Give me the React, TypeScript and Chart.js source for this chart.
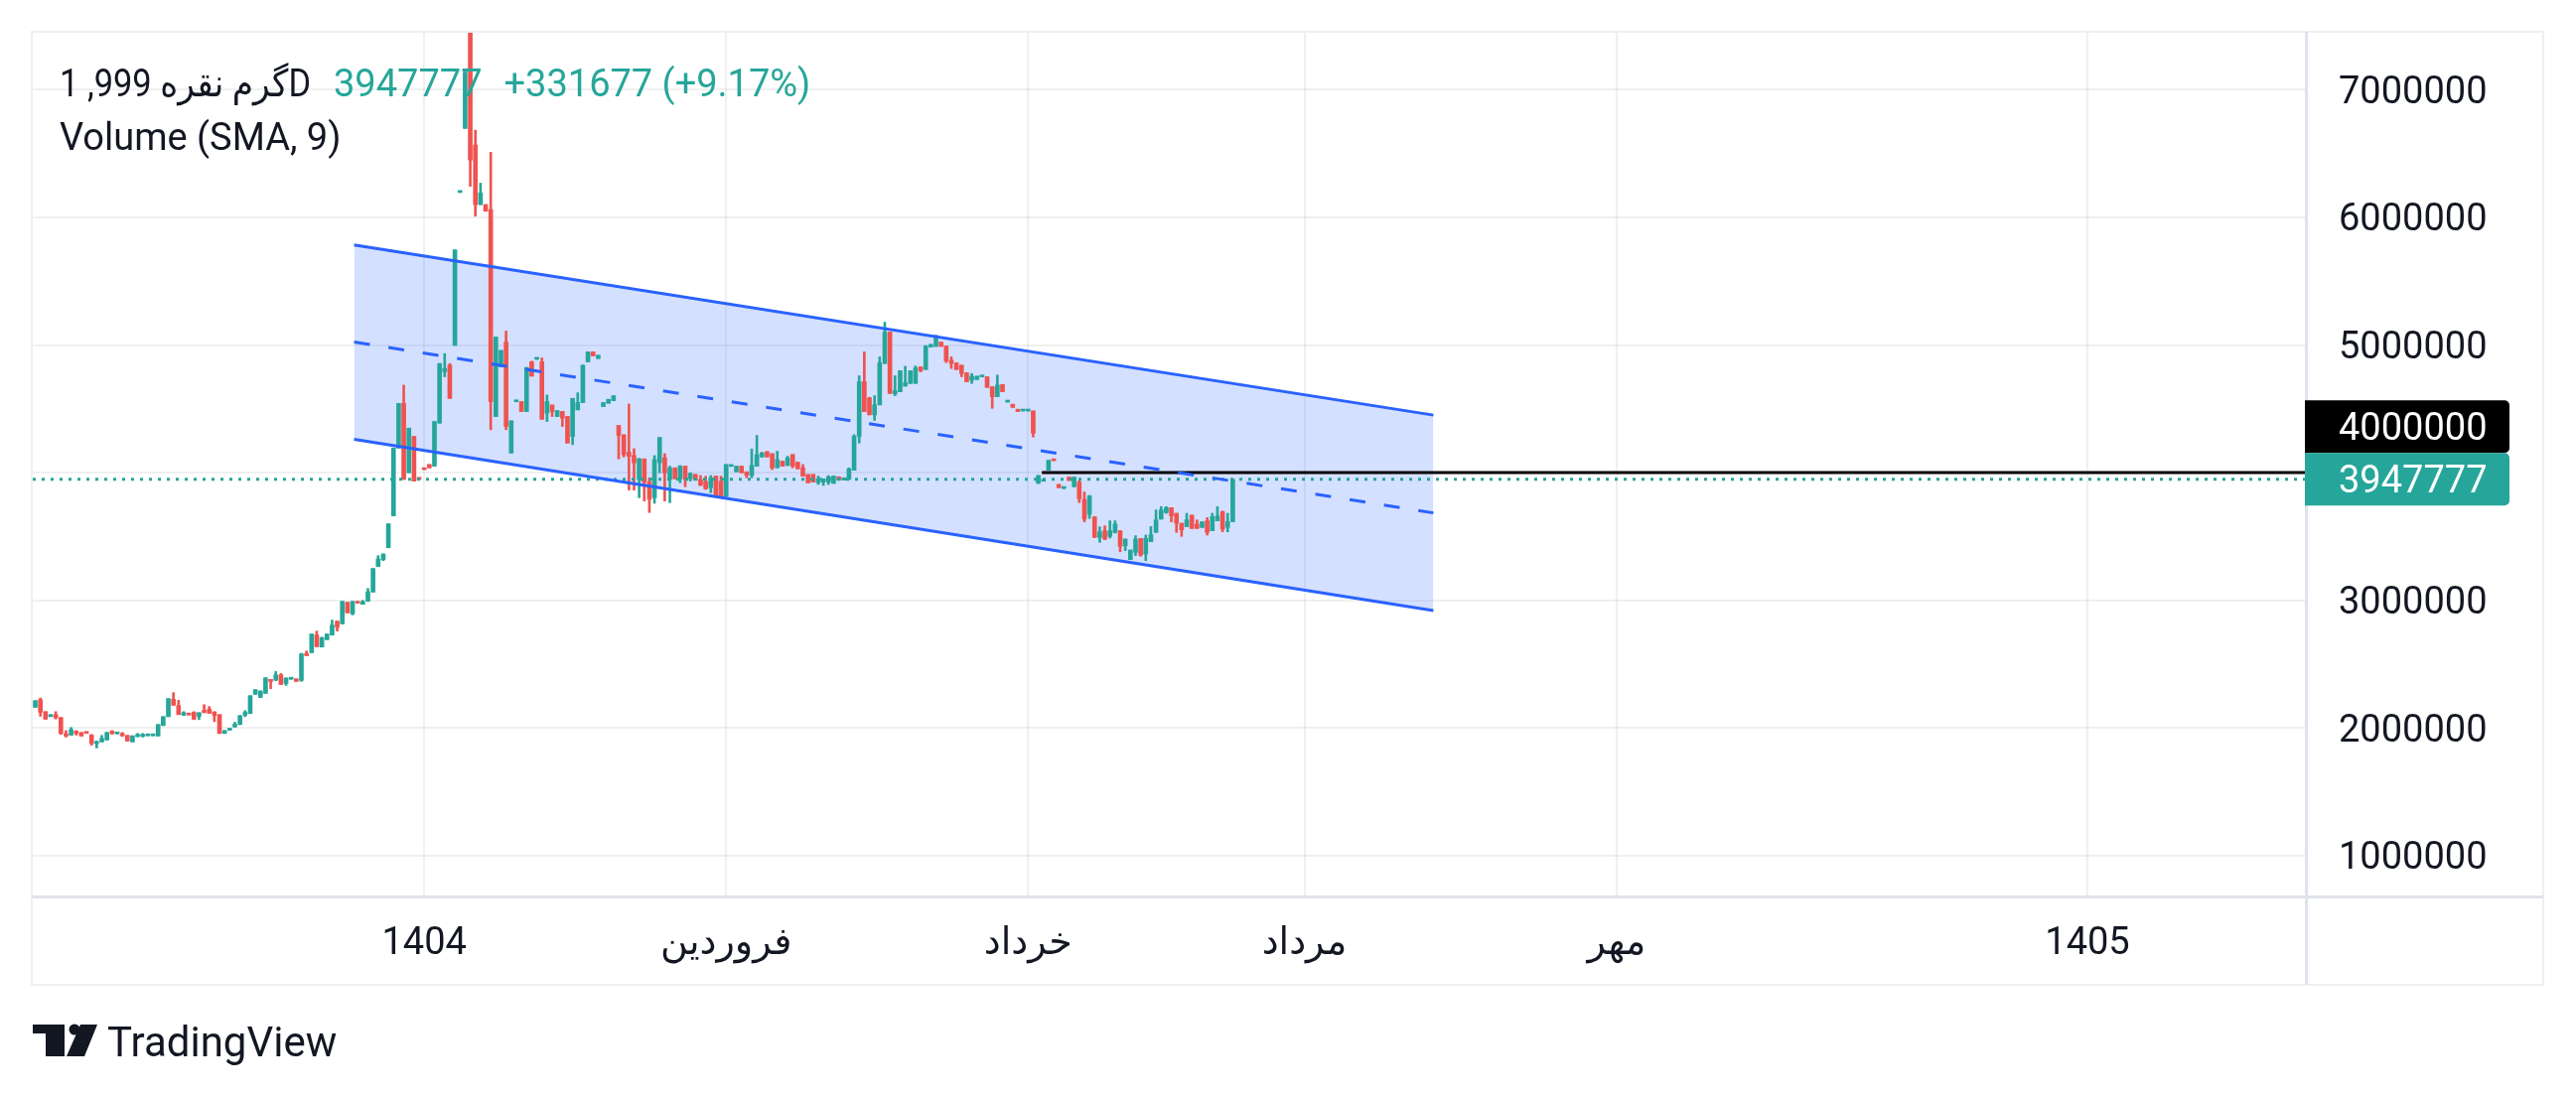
import React, { useEffect, useRef } from "react";
import { Chart, registerables } from "chart.js";

Chart.register(...registerables);

// ---------- data (prices in thousands) ----------
const OPEN = [
  2162, 2222, 2128, 2089, 2105, 2082, 1955, 1944, 1975, 1965,
  1962, 1944, 1878, 1891, 1906, 1975, 1954, 1957, 1942, 1891,
  1932, 1934, 1939, 1939, 1937, 2019, 2089, 2225, 2175, 2100,
  2110, 2123, 2092, 2139, 2147, 2126, 2105, 1957, 1983, 2009,
  2027, 2100, 2113, 2264, 2240, 2271, 2375, 2375, 2416, 2349,
  2382, 2385, 2373, 2582, 2590, 2728, 2634, 2692, 2728, 2837,
  2816, 2985, 2894, 2982, 2969, 2992, 3065, 3265, 3319, 3412,
  3661, 4193, 4543, 3999, 4284, 3950, 4026, 4064, 4051, 4388,
  4790, 4842, 4997, 6195, 6697, 7500, 6567, 6100, 6100, 6061,
  4440, 4829, 5023, 4154, 4555, 4556, 4479, 4868, 4888, 4868,
  4466, 4530, 4440, 4479, 4440, 4284, 4492, 4549, 4868, 4946,
  4894, 4518, 4544, 4564, 4370, 4297, 4160, 4134, 3947, 4108,
  3926, 3804, 4077, 4116, 3947, 4038, 3952, 4051, 3952, 3986,
  3947, 3931, 3882, 3973, 3934, 3812, 4049, 4007, 4051, 4007,
  3978, 4051, 4123, 4165, 4149, 4038, 4090, 4056, 4142, 4082,
  4038, 3986, 3986, 3921, 3926, 3926, 3916, 3968, 3942, 3947,
  4020, 4284, 4712, 4587, 4453, 4531, 4855, 5101, 4616, 4634,
  4678, 4699, 4699, 4829, 4808, 4984, 4989, 5023, 4992, 4881,
  4860, 4842, 4782, 4725, 4730, 4750, 4751, 4673, 4595, 4691,
  4553, 4536, 4497, 4483, 4483, 4484, 3916, 3933, 4019, 4096,
  3908, 3876, 3965, 3890, 3926, 3791, 3674, 3654, 3493, 3545,
  3501, 3532, 3545, 3428, 3319, 3376, 3485, 3363, 3459, 3532,
  3636, 3687, 3726, 3682, 3604, 3578, 3667, 3597, 3571, 3623,
  3545, 3623, 3693, 3571, 3616,
];
const HIGH = [
  2214, 2235, 2128, 2105, 2128, 2082, 1980, 2004, 1980, 1965,
  1962, 1950, 1898, 1942, 1965, 1980, 1956, 1965, 1942, 1939,
  1957, 1957, 1940, 1940, 2027, 2089, 2230, 2277, 2217, 2128,
  2110, 2128, 2120, 2183, 2168, 2128, 2105, 1980, 1996, 2045,
  2097, 2136, 2253, 2300, 2290, 2393, 2378, 2442, 2427, 2393,
  2383, 2385, 2585, 2603, 2736, 2759, 2712, 2736, 2845, 2837,
  2992, 2985, 2992, 2982, 3000, 3093, 3249, 3350, 3363, 3599,
  4193, 4543, 4686, 4349, 4284, 3952, 4026, 4064, 4401, 4855,
  4933, 4855, 5745, 6197, 7138, 7800, 6683, 6268, 6100, 6510,
  5062, 4958, 5109, 4406, 4557, 4556, 4824, 4873, 4890, 4899,
  4608, 4530, 4486, 4479, 4440, 4582, 4626, 4842, 4946, 4946,
  4920, 4549, 4575, 4603, 4370, 4297, 4538, 4188, 4113, 4108,
  3960, 4134, 4276, 4149, 4051, 4038, 4056, 4051, 3999, 3986,
  3978, 3973, 3978, 3973, 3973, 4064, 4051, 4051, 4051, 4007,
  4186, 4292, 4160, 4165, 4149, 4168, 4090, 4129, 4142, 4082,
  4064, 3986, 3986, 3973, 3952, 3978, 3973, 3968, 3960, 4038,
  4297, 4759, 4946, 4590, 4603, 4907, 5179, 5101, 4759, 4798,
  4834, 4798, 4836, 4829, 4997, 5005, 5075, 5023, 4992, 4907,
  4860, 4842, 4782, 4777, 4756, 4752, 4751, 4673, 4764, 4691,
  4555, 4536, 4497, 4485, 4485, 4484, 3978, 3935, 4097, 4096,
  3908, 3878, 3965, 3965, 3939, 3848, 3822, 3654, 3576, 3584,
  3623, 3623, 3545, 3480, 3394, 3506, 3485, 3511, 3578, 3708,
  3734, 3734, 3726, 3682, 3604, 3682, 3667, 3630, 3615, 3648,
  3682, 3734, 3700, 3682, 3947.777,
];
const LOW = [
  2162, 2092, 2069, 2089, 2071, 1950, 1929, 1944, 1944, 1937,
  1958, 1865, 1844, 1891, 1906, 1950, 1954, 1934, 1898, 1891,
  1932, 1929, 1939, 1939, 1937, 2019, 2089, 2178, 2105, 2097,
  2102, 2066, 2066, 2118, 2113, 2050, 1957, 1957, 1983, 2006,
  2027, 2089, 2113, 2264, 2238, 2271, 2308, 2370, 2339, 2334,
  2382, 2365, 2365, 2567, 2590, 2637, 2634, 2692, 2728, 2759,
  2816, 2902, 2886, 2978, 2969, 2992, 3065, 3265, 3311, 3412,
  3661, 4193, 3947, 3999, 3934, 3948, 4024, 4038, 4051, 4388,
  4751, 4582, 4997, 6195, 6697, 6243, 6009, 6100, 6048, 4336,
  4440, 4829, 4336, 4154, 4555, 4479, 4479, 4756, 4888, 4417,
  4401, 4440, 4440, 4362, 4232, 4219, 4492, 4549, 4868, 4914,
  4894, 4518, 4544, 4564, 4108, 4123, 3864, 3864, 3804, 3778,
  3688, 3760, 3999, 3778, 3765, 3952, 3921, 3890, 3934, 3942,
  3900, 3869, 3843, 3812, 3804, 3812, 4049, 4007, 3999, 3960,
  3960, 4051, 4123, 4123, 4025, 4038, 4051, 4056, 4038, 4030,
  3973, 3921, 3926, 3908, 3900, 3908, 3916, 3942, 3942, 3947,
  4020, 4232, 4479, 4453, 4409, 4531, 4855, 4621, 4603, 4634,
  4678, 4699, 4699, 4790, 4808, 4984, 4989, 4989, 4862, 4816,
  4808, 4751, 4712, 4699, 4730, 4750, 4668, 4504, 4595, 4634,
  4553, 4512, 4479, 4483, 4483, 4279, 3916, 3933, 4019, 4094,
  3882, 3876, 3939, 3890, 3765, 3615, 3641, 3493, 3454, 3475,
  3488, 3527, 3381, 3389, 3319, 3350, 3345, 3311, 3459, 3532,
  3636, 3682, 3615, 3532, 3501, 3578, 3563, 3563, 3571, 3511,
  3545, 3623, 3537, 3537, 3616,
];
const CLOSE = [
  2214, 2123, 2069, 2105, 2079, 1957, 1937, 1988, 1957, 1937,
  1958, 1880, 1893, 1919, 1965, 1957, 1956, 1939, 1898, 1939,
  1950, 1950, 1940, 1940, 2027, 2089, 2230, 2178, 2105, 2120,
  2102, 2069, 2120, 2123, 2115, 2097, 1957, 1980, 1996, 2030,
  2097, 2123, 2253, 2300, 2290, 2393, 2365, 2416, 2342, 2391,
  2383, 2365, 2580, 2567, 2736, 2637, 2707, 2736, 2806, 2790,
  2992, 2902, 2992, 2978, 2990, 3067, 3249, 3324, 3363, 3599,
  4193, 4543, 3947, 4349, 3934, 3948, 4024, 4038, 4401, 4855,
  4816, 4582, 5745, 6197, 7138, 6450, 6100, 6191, 6048, 4556,
  5062, 4958, 4362, 4406, 4557, 4479, 4824, 4756, 4890, 4419,
  4556, 4479, 4486, 4427, 4232, 4582, 4549, 4842, 4946, 4914,
  4920, 4549, 4575, 4603, 4292, 4141, 4128, 4077, 4108, 3926,
  3791, 4103, 4276, 3999, 4038, 3952, 4051, 3947, 3994, 3942,
  3900, 3874, 3960, 3812, 3804, 4064, 4051, 4051, 3999, 3980,
  4056, 4142, 4155, 4123, 4038, 4103, 4051, 4116, 4051, 4030,
  3973, 3921, 3926, 3952, 3952, 3968, 3973, 3942, 3960, 4030,
  4284, 4712, 4479, 4453, 4531, 4860, 5101, 4621, 4642, 4798,
  4704, 4798, 4821, 4798, 4992, 5005, 5075, 4989, 4875, 4855,
  4808, 4777, 4712, 4756, 4756, 4752, 4668, 4595, 4686, 4634,
  4555, 4512, 4479, 4485, 4485, 4310, 3978, 3935, 4097, 4094,
  3882, 3878, 3939, 3965, 3796, 3636, 3817, 3493, 3537, 3480,
  3545, 3597, 3423, 3480, 3394, 3480, 3355, 3485, 3514, 3630,
  3708, 3726, 3661, 3604, 3552, 3630, 3563, 3563, 3615, 3532,
  3656, 3661, 3558, 3616.1, 3947.777,
];
const PRICE_UNIT = 1000;

const Y_TICKS = [1000000, 2000000, 3000000, 4000000, 5000000, 6000000, 7000000];
const Y_RANGE = [688000, 7446000];
const X_RANGE = [-0.49, 443.5];
const TIME_TICK_BARS = [76, 135, 194, 248, 309, 401];
const TIME_TICK_LABELS = ["1404", "فروردین", "خرداد", "مرداد", "مهر", "1405"];

const CHANNEL_BARS = [62.3, 273.2];
const CHANNEL_UPPER = [5784000, 4451000];
const CHANNEL_MIDDLE = [5023000, 3685000];
const CHANNEL_LOWER = [4261000, 2920000];
const HLINE_START_BAR = 196.7;
const HLINE_VALUE = 4000000;

const SYMBOL_TEXT = "گرم نقره 999, 1D";
const INDICATOR_TEXT = "Volume (SMA, 9)";
const BRAND_TEXT = "TradingView";

// ---------- styles ----------
const UP = "#26A69A";
const DOWN = "#EF5350";
const TEXT = "#131722";
const BLUE = "#2962FF";
const GRID = "rgba(42,46,57,0.07)";
const FONT_FAMILY = 'Roboto, "DejaVu Sans", sans-serif';

const overlayPlugin = {
  id: "tvOverlay",
  afterDraw(chart: any) {
    const { ctx, chartArea: a, scales } = chart;
    const ys = scales.y;
    const xs = scales.x;
    const frameRight = ys.right;
    const frameBottom = xs.bottom;
    ctx.save();

    // frame + separators
    ctx.strokeStyle = "#EDEFF3";
    ctx.lineWidth = 2;
    ctx.strokeRect(a.left - 1, a.top - 1, frameRight - a.left + 1, frameBottom - a.top + 1);
    ctx.strokeStyle = "#E0E3EB";
    ctx.lineWidth = 3;
    ctx.beginPath();
    ctx.moveTo(a.right + 1.5, a.top - 1);
    ctx.lineTo(a.right + 1.5, frameBottom);
    ctx.moveTo(a.left - 1, a.bottom + 1.5);
    ctx.lineTo(frameRight, a.bottom + 1.5);
    ctx.stroke();

    // price labels
    const last = CLOSE[CLOSE.length - 1] * PRICE_UNIT;
    const h = 53;
    const bw = 206;
    const yLast = ys.getPixelForValue(last);
    const gTop = yLast - h / 2;
    const yH = ys.getPixelForValue(HLINE_VALUE);
    let bTop = yH - h / 2;
    if (bTop + h > gTop) bTop = gTop - h;
    ctx.font = `38px ${FONT_FAMILY}`;
    ctx.textBaseline = "middle";
    ctx.textAlign = "left";
    ctx.fillStyle = "#000000";
    ctx.beginPath();
    ctx.roundRect(a.right, bTop, bw, h, [0, 5, 5, 0]);
    ctx.fill();
    ctx.fillStyle = "#FFFFFF";
    ctx.fillText(String(HLINE_VALUE), a.right + 34, bTop + h / 2 + 4);
    ctx.fillStyle = UP;
    ctx.beginPath();
    ctx.roundRect(a.right, gTop, bw, h, [0, 5, 5, 0]);
    ctx.fill();
    ctx.fillStyle = "#FFFFFF";
    ctx.fillText(String(Math.round(last)), a.right + 34, gTop + h / 2 + 4);

    // legend
    const prev = CLOSE[CLOSE.length - 2] * PRICE_UNIT;
    const chg = Math.round(last - prev);
    const pct = ((last - prev) / prev) * 100;
    ctx.textBaseline = "alphabetic";
    ctx.direction = "ltr";
    ctx.fillStyle = TEXT;
    ctx.fillText(SYMBOL_TEXT, 60, 97, 253);
    const vx = 336;
    ctx.fillStyle = UP;
    const lastStr = String(Math.round(last));
    ctx.fillText(lastStr, vx, 97);
    const cx = vx + ctx.measureText(lastStr).width + 22;
    ctx.fillText(`+${chg} (+${pct.toFixed(2)}%)`, cx, 97);
    ctx.fillStyle = TEXT;
    ctx.fillText(INDICATOR_TEXT, 60, 151);

    // brand
    ctx.fillStyle = TEXT;
    ctx.fillRect(33, 1032, 32, 9);
    ctx.fillRect(46, 1032, 19, 32);
    ctx.beginPath();
    ctx.arc(75, 1037, 5.5, 0, Math.PI * 2);
    ctx.fill();
    ctx.beginPath();
    ctx.moveTo(81, 1032);
    ctx.lineTo(98, 1032);
    ctx.lineTo(85, 1064);
    ctx.lineTo(67, 1064);
    ctx.closePath();
    ctx.fill();
    ctx.font = `42px ${FONT_FAMILY}`;
    ctx.fillText(BRAND_TEXT, 108, 1064);
    ctx.restore();
  },
};

export default function App() {
  const ref = useRef<HTMLCanvasElement>(null);

  useEffect(() => {
    if (!ref.current) return;
    const colors = CLOSE.map((c, i) => (c >= OPEN[i] ? UP : DOWN));
    const bodies = CLOSE.map((c, i) => ({ x: i, y: [OPEN[i] * PRICE_UNIT, c * PRICE_UNIT] }));
    const wicks = CLOSE.map((_c, i) => ({ x: i, y: [LOW[i] * PRICE_UNIT, HIGH[i] * PRICE_UNIT] }));
    const last = CLOSE[CLOSE.length - 1] * PRICE_UNIT;

    const lineDs = (data: any[], color: string, width: number, extra: any = {}) => ({
      type: "line",
      data,
      borderColor: color,
      borderWidth: width,
      pointRadius: 0,
      tension: 0,
      fill: false,
      clip: 0,
      order: 0,
      ...extra,
    });

    const chart = new Chart(ref.current, {
      type: "bar",
      data: {
        datasets: [
          lineDs(
            CHANNEL_BARS.map((x, i) => ({ x, y: CHANNEL_UPPER[i] })),
            BLUE,
            3,
            { fill: "+1", backgroundColor: "rgba(41,98,255,0.2)" }
          ),
          lineDs(CHANNEL_BARS.map((x, i) => ({ x, y: CHANNEL_LOWER[i] })), BLUE, 3),
          lineDs(CHANNEL_BARS.map((x, i) => ({ x, y: CHANNEL_MIDDLE[i] })), BLUE, 3, {
            borderDash: [16, 19],
          }),
          lineDs(
            [
              { x: X_RANGE[0], y: last },
              { x: X_RANGE[1], y: last },
            ],
            UP,
            3,
            { borderDash: [3, 6] }
          ),
          lineDs(
            [
              { x: HLINE_START_BAR, y: HLINE_VALUE },
              { x: X_RANGE[1], y: HLINE_VALUE },
            ],
            "#000000",
            3
          ),
          {
            type: "bar",
            data: wicks,
            backgroundColor: colors,
            barThickness: 2,
            grouped: false,
            minBarLength: 1,
            borderWidth: 0,
            clip: 0,
            order: 3,
          },
          {
            type: "bar",
            data: bodies,
            backgroundColor: colors,
            barThickness: 4,
            grouped: false,
            minBarLength: 2,
            borderWidth: 0,
            clip: 0,
            order: 2,
          },
        ] as any,
      },
      options: {
        animation: false,
        responsive: true,
        maintainAspectRatio: false,
        events: [],
        layout: { padding: { left: 33, top: 33, right: 33, bottom: 114 } },
        plugins: {
          legend: { display: false },
          tooltip: { enabled: false },
          filler: { propagate: false, drawTime: "beforeDatasetsDraw" },
        } as any,
        scales: {
          x: {
            type: "linear",
            min: X_RANGE[0],
            max: X_RANGE[1],
            offset: false,
            grid: { color: GRID, lineWidth: 2, drawTicks: false, offset: false },
            border: { display: false },
            afterBuildTicks: (s: any) => {
              s.ticks = TIME_TICK_BARS.map((v) => ({ value: v }));
            },
            ticks: {
              autoSkip: false,
              maxRotation: 0,
              minRotation: 0,
              padding: 27,
              color: TEXT,
              font: { family: FONT_FAMILY, size: 38 },
              callback: (_v: any, i: number) => TIME_TICK_LABELS[i],
            },
            afterFit: (s: any) => {
              s.height = 90;
              s.paddingLeft = 0;
              s.paddingRight = 0;
            },
          },
          y: {
            type: "linear",
            position: "right",
            min: Y_RANGE[0],
            max: Y_RANGE[1],
            beginAtZero: false,
            grid: { color: GRID, lineWidth: 2, drawTicks: false },
            border: { display: false },
            afterBuildTicks: (s: any) => {
              s.ticks = Y_TICKS.map((v) => ({ value: v }));
            },
            ticks: {
              padding: 34,
              labelOffset: 4,
              color: TEXT,
              font: { family: FONT_FAMILY, size: 38 },
              callback: (v: any) => String(v),
            },
            afterFit: (s: any) => {
              s.width = 240;
              s.paddingTop = 0;
              s.paddingBottom = 0;
            },
          },
        } as any,
      },
      plugins: [overlayPlugin],
    } as any);
    return () => chart.destroy();
  }, []);

  return (
    <div
      style={{
        position: "absolute",
        left: 0,
        top: 0,
        width: 2594,
        height: 1106,
        background: "#ffffff",
      }}
    >
      <canvas ref={ref} />
    </div>
  );
}
